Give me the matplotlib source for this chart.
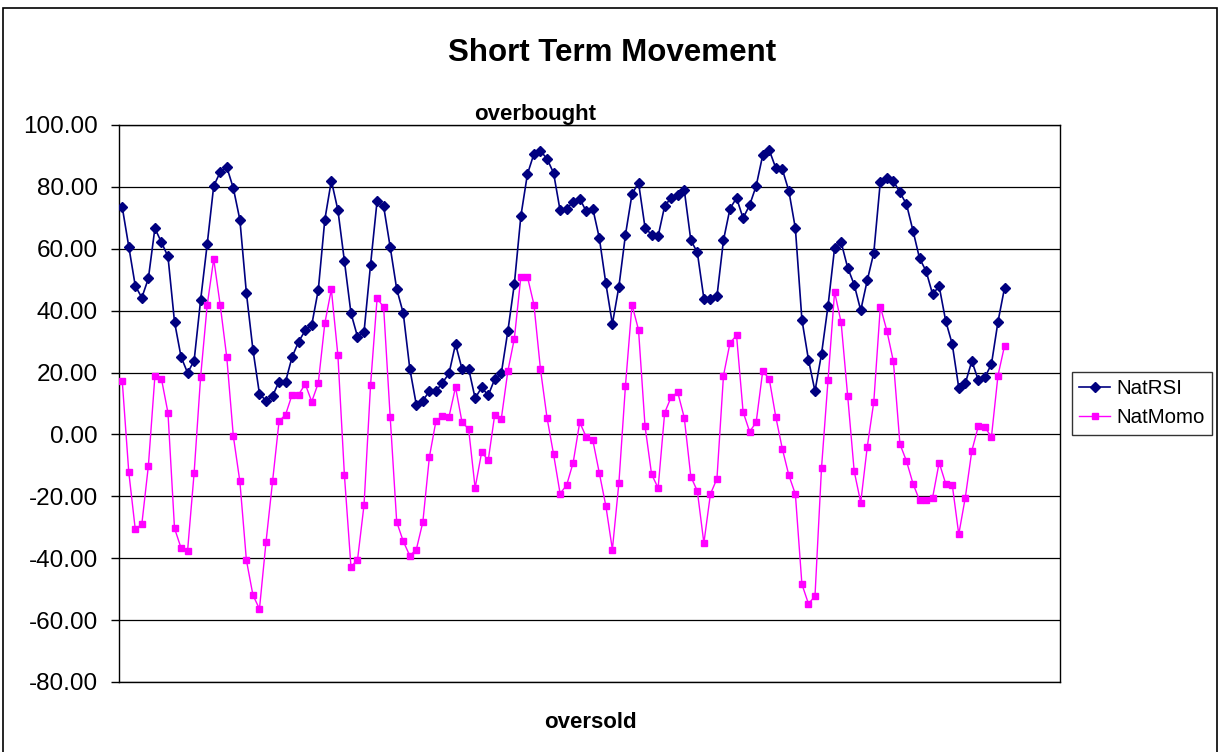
import matplotlib
matplotlib.use("Agg")
import matplotlib.pyplot as plt
from matplotlib.patches import Rectangle

plt.rcParams["font.family"] = ["Liberation Sans", "DejaVu Sans"]

# ---- data ----
nat_rsi = [
    73.5, 60.7, 48.0, 44.2, 50.4, 66.6, 62.1, 57.5, 36.4, 25.1,
    19.9, 23.8, 43.5, 61.4, 80.3, 84.8, 86.4, 79.6, 69.4, 45.7,
    27.4, 13.1, 10.9, 12.4, 17.1, 17.1, 25.1, 30.0, 33.6, 35.4,
    46.7, 69.4, 82.0, 72.5, 56.0, 39.2, 31.6, 33.1, 54.9, 75.5,
    73.7, 60.6, 47.0, 39.2, 21.3, 9.6, 10.9, 14.0, 14.0, 16.7,
    19.7, 29.2, 21.1, 21.3, 11.7, 15.2, 12.6, 17.9, 19.7, 33.3,
    48.6, 70.6, 84.1, 90.7, 91.6, 89.1, 84.5, 72.4, 73.0, 75.1,
    76.2, 72.1, 73.0, 63.5, 48.8, 35.7, 47.8, 64.5, 77.6, 81.4,
    66.8, 64.5, 64.1, 73.8, 76.5, 77.5, 79.0, 62.8, 58.8, 43.9,
    43.7, 44.6, 62.8, 73.0, 76.4, 69.9, 74.1, 80.3, 90.2, 91.9,
    86.1, 85.7, 78.7, 66.6, 37.1, 24.2, 14.0, 26.0, 41.6, 60.2,
    62.1, 53.9, 48.4, 40.1, 49.8, 58.7, 81.7, 83.0, 81.9, 78.2,
    74.4, 65.8, 56.9, 52.8, 45.3, 47.9, 36.7, 29.2, 15.1, 16.5,
    23.7, 17.5, 18.5, 22.7, 36.4, 47.3,
]

nat_momo = [
    17.4, -12.1, -30.7, -29.0, -10.2, 18.8, 18.0, 7.0, -30.3, -36.7,
    -37.6, -12.5, 18.7, 41.7, 56.7, 41.7, 24.9, -0.5, -15.2, -40.6,
    -51.9, -56.4, -34.8, -15.2, 4.3, 6.4, 12.9, 12.9, 16.3, 10.6,
    16.6, 35.9, 46.9, 25.6, -13.2, -42.7, -40.6, -22.8, 16.0, 44.0,
    41.1, 5.7, -28.3, -34.5, -39.2, -37.2, -28.3, -7.3, 4.3, 5.9,
    5.7, 15.3, 3.9, 1.8, -17.3, -5.7, -8.4, 6.4, 5.0, 20.4,
    31.0, 51.0, 51.0, 41.9, 21.0, 5.4, -6.4, -19.1, -16.4, -9.1,
    3.9, -0.8, -1.8, -12.5, -23.1, -37.2, -15.6, 15.7, 41.9, 33.8,
    2.6, -12.9, -17.3, 7.0, 12.1, 13.6, 5.4, -13.6, -18.3, -35.1,
    -19.3, -14.3, 19.0, 29.6, 32.0, 7.3, 0.9, 3.9, 20.4, 18.0,
    5.7, -4.6, -13.2, -19.3, -48.4, -54.7, -52.3, -10.8, 17.6, 46.1,
    36.2, 12.5, -11.9, -22.0, -4.0, 10.5, 41.3, 33.5, 23.6, -3.1,
    -8.6, -15.9, -21.3, -21.3, -20.4, -9.1, -15.9, -16.2, -32.3, -20.4,
    -5.3, 2.7, 2.3, -0.8, 19.0, 28.6,
]

n_categories = 144          # category axis has empty slots after the data
y_ticks = [-80, -60, -40, -20, 0, 20, 40, 60, 80, 100]

# ---- figure ----
fig = plt.figure(figsize=(12.2, 7.52), dpi=100)
ax = fig.add_axes([0.0975, 0.0931, 0.7714, 0.7407])

x = list(range(len(nat_rsi)))
ax.plot(x, nat_rsi, color="#000080", lw=1.2, marker="D", markersize=5,
        label="NatRSI", zorder=3)
ax.plot(range(len(nat_momo)), nat_momo, color="#FF00FF", lw=1.0, marker="s",
        markersize=4.8, label="NatMomo", zorder=3)

ax.set_xlim(-0.5, n_categories - 0.5)
ax.set_ylim(-80, 100)
ax.set_yticks(y_ticks)
ax.set_yticklabels([f"{v:.2f}" for v in y_ticks], fontsize=17.5)
ax.set_xticks([])
ax.tick_params(axis="y", direction="out", length=6, width=1, pad=9)
ax.yaxis.grid(True, color="black", lw=0.9)
ax.set_axisbelow(True)
for sp in ax.spines.values():
    sp.set_color("black")
    sp.set_linewidth(1.0)

fig.text(0.502, 0.930, "Short Term Movement", ha="center", va="center",
         fontsize=22.5, fontweight="bold")
fig.text(0.4385, 0.848, "overbought", ha="center", va="center",
         fontsize=16, fontweight="bold")
fig.text(0.4836, 0.039, "oversold", ha="center", va="center",
         fontsize=16, fontweight="bold")

leg = fig.legend(loc="upper left", bbox_to_anchor=(0.8787, 0.5053),
                 fontsize=14.8, frameon=True, fancybox=False, edgecolor="black",
                 borderpad=0.35, borderaxespad=0, handlelength=1.5,
                 labelspacing=0.5, handletextpad=0.3)
leg.get_frame().set_linewidth(1.0)

# outer chart border
fig.patches.append(Rectangle((0.0025, -0.01), 0.995, 1.0, transform=fig.transFigure,
                             fill=False, edgecolor="black", lw=1.2))

plt.savefig("out.png", dpi=100)
